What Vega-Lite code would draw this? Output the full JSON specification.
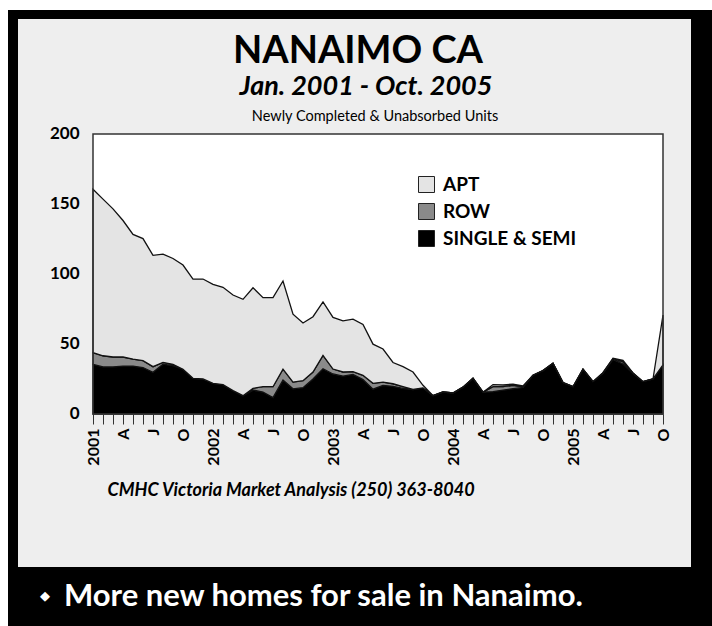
{
  "$schema": "https://vega.github.io/schema/vega-lite/v6.json",
  "width": 704,
  "height": 616,
  "autosize": {"type": "none"},
  "padding": {"left": 8, "top": 10, "right": 0, "bottom": 0},
  "background": "white",
  "view": {"fill": "black", "stroke": null},
  "config": {"font": "Lato"},
  "resolve": {"axis": {"x": "independent", "y": "independent"}},
  "datasets": {
    "nanaimo": [
      {"m":0,"SINGLE & SEMI":35.5,"ROW":8.3,"APT":116.7},
      {"m":1,"SINGLE & SEMI":33.6,"ROW":8.0,"APT":111.9},
      {"m":2,"SINGLE & SEMI":33.6,"ROW":7.1,"APT":105.8},
      {"m":3,"SINGLE & SEMI":34.2,"ROW":6.5,"APT":97.5},
      {"m":4,"SINGLE & SEMI":34.2,"ROW":5.0,"APT":89.1},
      {"m":5,"SINGLE & SEMI":33.2,"ROW":4.9,"APT":87.2},
      {"m":6,"SINGLE & SEMI":29.8,"ROW":4.0,"APT":79.5},
      {"m":7,"SINGLE & SEMI":35.6,"ROW":1.3,"APT":77.3},
      {"m":8,"SINGLE & SEMI":34.6,"ROW":0.9,"APT":75.6},
      {"m":9,"SINGLE & SEMI":32.0,"ROW":0,"APT":74.4},
      {"m":10,"SINGLE & SEMI":25.5,"ROW":0,"APT":70.9},
      {"m":11,"SINGLE & SEMI":25.0,"ROW":0,"APT":71.4},
      {"m":12,"SINGLE & SEMI":21.9,"ROW":0,"APT":70.7},
      {"m":13,"SINGLE & SEMI":21.0,"ROW":0,"APT":69.5},
      {"m":14,"SINGLE & SEMI":16.7,"ROW":0,"APT":68.3},
      {"m":15,"SINGLE & SEMI":13.1,"ROW":0,"APT":68.8},
      {"m":16,"SINGLE & SEMI":17.1,"ROW":1.2,"APT":71.9},
      {"m":17,"SINGLE & SEMI":15.7,"ROW":3.8,"APT":63.6},
      {"m":18,"SINGLE & SEMI":11.7,"ROW":7.8,"APT":63.6},
      {"m":19,"SINGLE & SEMI":24.3,"ROW":7.7,"APT":63.0},
      {"m":20,"SINGLE & SEMI":18.0,"ROW":4.8,"APT":48.5},
      {"m":21,"SINGLE & SEMI":18.8,"ROW":5.0,"APT":41.2},
      {"m":22,"SINGLE & SEMI":25.0,"ROW":5.0,"APT":39.5},
      {"m":23,"SINGLE & SEMI":32.3,"ROW":9.6,"APT":38.1},
      {"m":24,"SINGLE & SEMI":28.6,"ROW":3.5,"APT":36.9},
      {"m":25,"SINGLE & SEMI":27.1,"ROW":2.9,"APT":36.5},
      {"m":26,"SINGLE & SEMI":28.3,"ROW":1.9,"APT":37.5},
      {"m":27,"SINGLE & SEMI":24.6,"ROW":3.0,"APT":36.4},
      {"m":28,"SINGLE & SEMI":17.7,"ROW":4.2,"APT":28.0},
      {"m":29,"SINGLE & SEMI":20.5,"ROW":2.3,"APT":23.6},
      {"m":30,"SINGLE & SEMI":19.8,"ROW":1.8,"APT":15.2},
      {"m":31,"SINGLE & SEMI":18.3,"ROW":1.2,"APT":14.3},
      {"m":32,"SINGLE & SEMI":17.5,"ROW":0,"APT":12.5},
      {"m":33,"SINGLE & SEMI":18.7,"ROW":0,"APT":1.8},
      {"m":34,"SINGLE & SEMI":13.1,"ROW":0,"APT":0},
      {"m":35,"SINGLE & SEMI":15.7,"ROW":0,"APT":0},
      {"m":36,"SINGLE & SEMI":15.0,"ROW":0,"APT":0},
      {"m":37,"SINGLE & SEMI":19.2,"ROW":0,"APT":0},
      {"m":38,"SINGLE & SEMI":25.5,"ROW":0,"APT":0},
      {"m":39,"SINGLE & SEMI":15.6,"ROW":0,"APT":0},
      {"m":40,"SINGLE & SEMI":16.0,"ROW":3.5,"APT":1.5},
      {"m":41,"SINGLE & SEMI":17.1,"ROW":2.4,"APT":1.2},
      {"m":42,"SINGLE & SEMI":18.1,"ROW":2.4,"APT":0.9},
      {"m":43,"SINGLE & SEMI":19.0,"ROW":0.5,"APT":0.5},
      {"m":44,"SINGLE & SEMI":27.7,"ROW":0,"APT":0},
      {"m":45,"SINGLE & SEMI":31.0,"ROW":0,"APT":0},
      {"m":46,"SINGLE & SEMI":36.2,"ROW":0,"APT":0},
      {"m":47,"SINGLE & SEMI":22.5,"ROW":0,"APT":0},
      {"m":48,"SINGLE & SEMI":19.5,"ROW":0,"APT":0},
      {"m":49,"SINGLE & SEMI":32.0,"ROW":0,"APT":0},
      {"m":50,"SINGLE & SEMI":23.1,"ROW":0,"APT":0},
      {"m":51,"SINGLE & SEMI":29.0,"ROW":0.5,"APT":0},
      {"m":52,"SINGLE & SEMI":39.0,"ROW":0.5,"APT":0.3},
      {"m":53,"SINGLE & SEMI":35.7,"ROW":1.5,"APT":1.2},
      {"m":54,"SINGLE & SEMI":29.0,"ROW":0.3,"APT":0},
      {"m":55,"SINGLE & SEMI":23.1,"ROW":0,"APT":0},
      {"m":56,"SINGLE & SEMI":25.0,"ROW":0,"APT":0},
      {"m":57,"SINGLE & SEMI":35.0,"ROW":0,"APT":35.7}
    ]
  },
  "layer": [
    {
      "data": {"values": [{"part": "panel"}]},
      "mark": {"type": "rect", "fill": "#eeeeee"},
      "encoding": {
        "x": {"datum": -7.5, "type": "quantitative", "scale": {"domain": [-8.5, 61.9], "nice": false, "zero": false}, "axis": null},
        "x2": {"datum": 59.8},
        "y": {"datum": 282.14, "type": "quantitative", "scale": {"domain": [-151.43, 288.57], "nice": false, "zero": false}, "axis": null},
        "y2": {"datum": -109.29}
      }
    },
    {
      "data": {"values": [{"part": "plot"}]},
      "mark": {"type": "rect", "fill": "white"},
      "encoding": {
        "x": {"datum": 0, "type": "quantitative", "scale": {"domain": [-8.5, 61.9], "nice": false, "zero": false}, "axis": null},
        "x2": {"datum": 57},
        "y": {"datum": 0, "type": "quantitative", "scale": {"domain": [-151.43, 288.57], "nice": false, "zero": false}, "axis": null},
        "y2": {"datum": 200}
      }
    },
    {
      "data": {"name": "nanaimo"},
      "transform": [{"fold": ["SINGLE & SEMI", "ROW", "APT"], "as": ["type", "units"]}],
      "mark": {"type": "area", "stroke": "#111111", "strokeWidth": 1.3, "opacity": 1},
      "encoding": {
        "x": {
          "field": "m", "type": "quantitative",
          "scale": {"domain": [-8.5, 61.9], "nice": false, "zero": false},
          "axis": {
            "orient": "bottom", "offset": -212, "zindex": 2, "domain": false, "grid": false,
            "values": [0,1,2,3,4,5,6,7,8,9,10,11,12,13,14,15,16,17,18,19,20,21,22,23,24,25,26,27,28,29,30,31,32,33,34,35,36,37,38,39,40,41,42,43,44,45,46,47,48,49,50,51,52,53,54,55,56,57],
            "labelExpr": "datum.value % 12 == 0 ? toString(2001 + datum.value / 12) : datum.value % 12 == 3 ? 'A' : datum.value % 12 == 6 ? 'J' : datum.value % 12 == 9 ? 'O' : ''",
            "labelAngle": -90, "labelOverlap": false, "labelFontSize": 16, "labelFontWeight": "bold", "labelColor": "black", "labelPadding": 4, "labelFlush": false,
            "tickSize": 10, "tickColor": "#333", "tickWidth": 1,
            "title": "CMHC Victoria Market Analysis (250) 363-8040",
            "titleFontSize": 18, "titleFontWeight": "bold", "titleFontStyle": "italic", "titleColor": "black",
            "titleAnchor": "start", "titleAlign": "left", "titleBaseline": "middle", "titleAngle": 0,
            "titleX": 99, "titleY": 76
          }
        },
        "y": {
          "field": "units", "type": "quantitative", "stack": "zero",
          "scale": {"domain": [-151.43, 288.57], "nice": false, "zero": false},
          "axis": {
            "orient": "left", "offset": -85, "zindex": 2, "domain": false, "grid": false, "ticks": false, "tickSize": 0,
            "values": [0, 50, 100, 150, 200],
            "labelFontSize": 17, "labelFontWeight": "bold", "labelColor": "black", "labelPadding": 14, "labelFlush": false,
            "title": null
          }
        },
        "color": {
          "field": "type", "type": "nominal",
          "scale": {"domain": ["APT", "ROW", "SINGLE & SEMI"], "range": ["#e4e4e4", "#8a8a8a", "#000000"]},
          "legend": {
            "orient": "none", "legendX": 409, "legendY": 165, "title": null, "zindex": 2,
            "symbolType": "square", "symbolSize": 256, "symbolStrokeColor": "#222", "symbolStrokeWidth": 1, "symbolOpacity": 1,
            "labelFontSize": 19, "labelFontWeight": "bold", "labelColor": "black", "labelOffset": 7,
            "rowPadding": 6, "padding": 0
          }
        },
        "order": {"field": "type", "sort": "descending"}
      }
    },
    {
      "data": {"values": [{"part": "plot"}]},
      "mark": {"type": "rect", "fill": "white", "fillOpacity": 0, "stroke": "#333", "strokeWidth": 1.5},
      "encoding": {
        "x": {"datum": 0, "type": "quantitative", "scale": {"domain": [-8.5, 61.9], "nice": false, "zero": false}, "axis": null},
        "x2": {"datum": 57},
        "y": {"datum": 0, "type": "quantitative", "scale": {"domain": [-151.43, 288.57], "nice": false, "zero": false}, "axis": null},
        "y2": {"datum": 200}
      }
    },
    {
      "data": {"values": [{"label": "NANAIMO CA"}]},
      "mark": {"type": "text", "fontSize": 38, "fontWeight": "bold", "color": "black", "align": "center", "baseline": "middle"},
      "encoding": {
        "x": {"datum": 26.5, "type": "quantitative", "scale": {"domain": [-8.5, 61.9], "nice": false, "zero": false}, "axis": null},
        "y": {"datum": 258.4, "type": "quantitative", "scale": {"domain": [-151.43, 288.57], "nice": false, "zero": false}, "axis": null},
        "text": {"field": "label"}
      }
    },
    {
      "data": {"values": [{"label": "Jan. 2001 - Oct. 2005"}]},
      "mark": {"type": "text", "fontSize": 27, "fontWeight": "bold", "fontStyle": "italic", "color": "black", "align": "center", "baseline": "middle"},
      "encoding": {
        "x": {"datum": 27.3, "type": "quantitative", "scale": {"domain": [-8.5, 61.9], "nice": false, "zero": false}, "axis": null},
        "y": {"datum": 233.6, "type": "quantitative", "scale": {"domain": [-151.43, 288.57], "nice": false, "zero": false}, "axis": null},
        "text": {"field": "label"}
      }
    },
    {
      "data": {"values": [{"label": "Newly Completed & Unabsorbed Units"}]},
      "mark": {"type": "text", "fontSize": 14.5, "color": "black", "align": "center", "baseline": "middle"},
      "encoding": {
        "x": {"datum": 28.2, "type": "quantitative", "scale": {"domain": [-8.5, 61.9], "nice": false, "zero": false}, "axis": null},
        "y": {"datum": 212.1, "type": "quantitative", "scale": {"domain": [-151.43, 288.57], "nice": false, "zero": false}, "axis": null},
        "text": {"field": "label"}
      }
    },
    {
      "data": {"values": [{"label": "◆"}]},
      "mark": {"type": "text", "fontSize": 13, "color": "white", "align": "center", "baseline": "middle", "font": "DejaVu Sans"},
      "encoding": {
        "x": {"datum": -4.8, "type": "quantitative", "scale": {"domain": [-8.5, 61.9], "nice": false, "zero": false}, "axis": null},
        "y": {"datum": -130.0, "type": "quantitative", "scale": {"domain": [-151.43, 288.57], "nice": false, "zero": false}, "axis": null},
        "text": {"field": "label"}
      }
    },
    {
      "data": {"values": [{"label": "More new homes for sale in Nanaimo."}]},
      "mark": {"type": "text", "fontSize": 31, "fontWeight": "bold", "color": "white", "align": "left", "baseline": "middle"},
      "encoding": {
        "x": {"datum": -2.9, "type": "quantitative", "scale": {"domain": [-8.5, 61.9], "nice": false, "zero": false}, "axis": null},
        "y": {"datum": -130.7, "type": "quantitative", "scale": {"domain": [-151.43, 288.57], "nice": false, "zero": false}, "axis": null},
        "text": {"field": "label"}
      }
    }
  ]
}
